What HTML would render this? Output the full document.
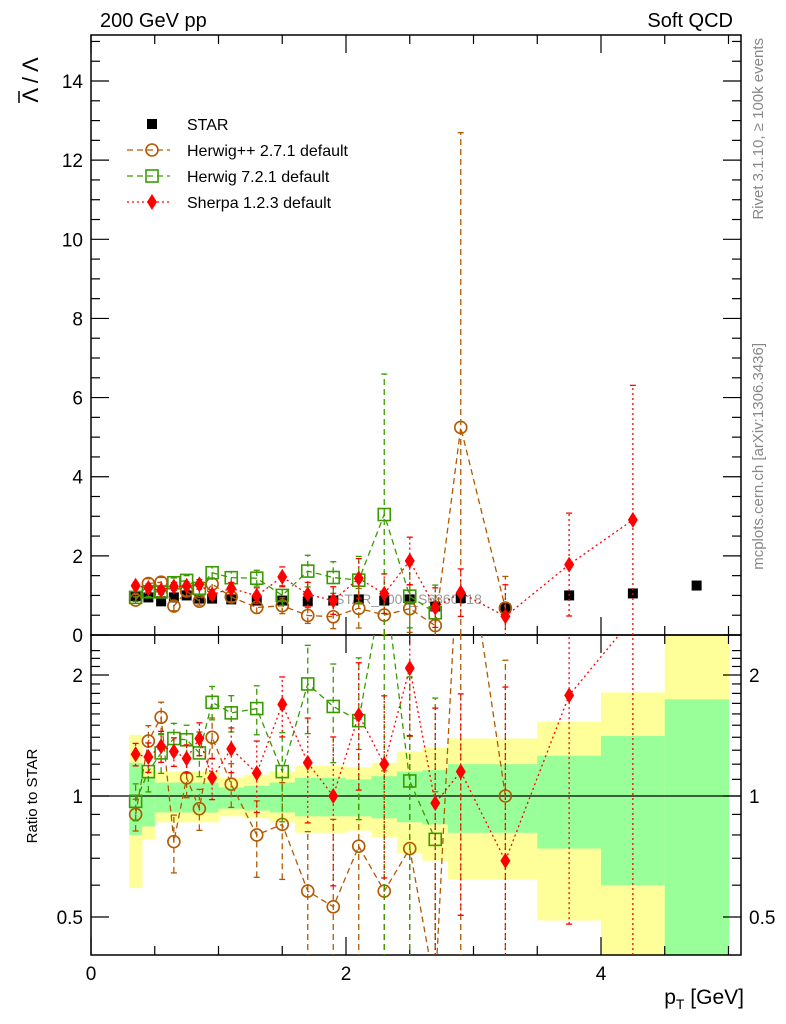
<!DOCTYPE html>
<html><head><meta charset="utf-8"><style>
html,body{margin:0;padding:0;background:#fff;overflow:hidden;width:786px;height:1024px}
svg{display:block;font-family:"Liberation Sans",sans-serif;overflow:hidden}
</style></head><body>
<svg id="c" width="786" height="1024" viewBox="0 0 786 1024"></svg>
<script>
const xs=[0.35,0.45,0.55,0.65,0.75,0.85,0.95,1.1,1.3,1.5,1.7,1.9,2.1,2.3,2.5,2.7,2.9,3.25,3.75,4.25,4.75];
const starVals=[0.98,0.95,0.85,0.95,1.0,0.92,0.92,0.9,0.87,0.87,0.85,0.87,0.9,0.87,0.9,0.72,0.93,0.68,1.0,1.05,1.25];
const hppRatio=[0.90,1.37,1.57,0.77,1.11,0.93,1.40,1.07,0.80,0.85,0.58,0.53,0.75,0.58,0.74,0.33,5.64,1.0];
const hppErr=[0.08,0.12,0.12,0.12,0.12,0.1,0.15,0.12,0.15,0.2,0.2,0.3,0.5,0.5,0.6,0.5,7.45,0.8];
const h7Ratio=[0.97,1.15,1.28,1.39,1.38,1.28,1.71,1.61,1.65,1.15,1.90,1.67,1.54,3.5,1.09,0.78];
const h7Err=[0.1,0.12,0.12,0.12,0.12,0.15,0.15,0.15,0.2,0.25,0.4,0.4,0.6,3.55,0.8,0.7];
const shRatio=[1.27,1.25,1.33,1.29,1.24,1.39,1.11,1.31,1.14,1.69,1.21,1.0,1.59,1.20,2.08,0.96,1.15,0.69,1.78,2.77];
const shErr=[0.08,0.1,0.1,0.1,0.1,0.12,0.12,0.15,0.2,0.25,0.3,0.35,0.5,0.5,0.6,0.5,0.6,0.8,1.3,3.4];
const bandEdges=[0.3,0.4,0.5,1.0,1.2,1.4,1.6,2.0,2.2,2.4,2.6,2.8,3.5,4.0,4.5,5.0];
const yelLo=[0.59,0.78,0.86,0.89,0.88,0.86,0.81,0.82,0.79,0.72,0.69,0.62,0.49,0.2,0.2];
const yelHi=[1.42,1.18,1.15,1.11,1.13,1.15,1.19,1.18,1.21,1.29,1.32,1.39,1.53,1.81,3.0];
const grnLo=[0.80,0.84,0.91,0.93,0.92,0.91,0.89,0.89,0.88,0.86,0.85,0.81,0.74,0.60,0.2];
const grnHi=[1.21,1.11,1.08,1.05,1.06,1.08,1.11,1.10,1.12,1.15,1.16,1.20,1.26,1.41,1.74];
const yTicks=[0,2,4,6,8,10,12,14];
const xTickLabels=[0,2,4];
const rTicks=[0.5,1,2];

const L=91,R=741,T=35,MB=635,RB=955;
const X=v=>L+v*127.5;
const Y=v=>MB-v*39.57;
const RY=r=>796-121*Math.log2(r);
const clampR=y=>Math.max(MB-40,Math.min(RB+15,y));
const NS="http://www.w3.org/2000/svg";
const svg=document.getElementById('c');
function el(tag,attrs,parent){const e=document.createElementNS(NS,tag);for(const k in attrs)e.setAttribute(k,attrs[k]);(parent||svg).appendChild(e);return e;}
function txt(s,attrs,parent){const e=el('text',attrs,parent);e.textContent=s;return e;}

const defs=el('defs',{});
const c1=el('clipPath',{id:'cu'},defs);el('rect',{x:L,y:T,width:R-L,height:MB-T},c1);
const c2=el('clipPath',{id:'cr'},defs);el('rect',{x:L,y:MB,width:R-L,height:RB-MB},c2);

const gb=el('g',{'clip-path':'url(#cr)'});


for(let i=0;i<yelLo.length;i++){
  const x0=X(bandEdges[i]),x1=X(bandEdges[i+1]);
  const yt0=clampR(RY(yelHi[i])),yb0=clampR(RY(yelLo[i]));
  const r1=el('rect',{x:x0,y:yt0,width:x1-x0+0.5,height:yb0-yt0,fill:'#ffff99'},gb);
  
  
  const yt1=clampR(RY(grnHi[i])),yb1=clampR(RY(grnLo[i]));
  const r2=el('rect',{x:x0,y:yt1,width:x1-x0+0.5,height:yb1-yt1,fill:'#99ff99'},gb);
  
  
}
el('line',{x1:L,x2:R,y1:RY(1),y2:RY(1),stroke:'#000','stroke-width':1.2});

function frame(y0,y1,name){const f=el('rect',{x:L,y:y0,width:R-L,height:y1-y0,fill:'none',stroke:'#000','stroke-width':1.5});}
frame(T,MB,'main-plot-frame');frame(MB,RB,'ratio-plot-frame');
const ax=el('g',{stroke:'#000','stroke-width':1.2});
for(let v=0;v<=15;v+=0.5){const y=Y(v);if(y<T)break;const len=(v%2===0)?18:9;
  el('line',{x1:L,x2:L+len,y1:y,y2:y},ax);el('line',{x1:R,x2:R-len,y1:y,y2:y},ax);}
for(let v=0;v<=5.01;v+=0.5){const x=X(v);if(x>R)break;const len=(Math.abs(v%2)<0.01)?18:9;
  [[T,1],[MB,-1],[MB,1],[RB,-1]].forEach(([y,d])=>el('line',{x1:x,x2:x,y1:y,y2:y+d*len},ax));}
for(let r=0.4;r<2.4;r+=0.1){const y=RY(r);if(y<MB||y>RB)continue;
  const major=rTicks.some(t=>Math.abs(t-r)<0.01);const len=major?18:9;
  el('line',{x1:L,x2:L+len,y1:y,y2:y},ax);el('line',{x1:R,x2:R-len,y1:y,y2:y},ax);}

const tl=el('g',{'font-size':19,fill:'#000'});
yTicks.forEach(v=>{const t=txt(String(v),{x:L-8,y:Y(v)+7,'text-anchor':'end'},tl);});
xTickLabels.forEach(v=>{const t=txt(String(v),{x:X(v),y:980,'text-anchor':'middle'},tl);});
rTicks.forEach(v=>{const t=txt(String(v),{x:L-8,y:RY(v)+7,'text-anchor':'end'},tl);
  const t2=txt(String(v),{x:R+8,y:RY(v)+7,'text-anchor':'start'},tl);});

const wm=txt('STAR_2006_S6860818',{x:335,y:604,'font-size':14,fill:'#999'});


const SER=[
 {name:'herwigpp',ratio:hppRatio,err:hppErr,color:'#b35900',dash:'6,4',mk:'circle'},
 {name:'herwig7',ratio:h7Ratio,err:h7Err,color:'#3a9b00',dash:'6,4',mk:'square'},
 {name:'sherpa',ratio:shRatio,err:shErr,color:'#ff0000',dash:'2,3',mk:'diamond'}
];
function marker(g,mk,x,y,color){
  if(mk==='circle')return el('circle',{cx:x,cy:y,r:6,fill:'none',stroke:color,'stroke-width':1.6},g);
  if(mk==='square')return el('rect',{x:x-6,y:y-6,width:12,height:12,fill:'none',stroke:color,'stroke-width':1.6},g);
  if(mk==='diamond')return el('polygon',{points:`${x},${y-8} ${x+5},${y} ${x},${y+8} ${x-5},${y}`,fill:color},g);
  if(mk==='sqfill')return el('rect',{x:x-5,y:y-5,width:10,height:10,fill:color},g);
}
function drawSeries(s,panel){
  const clip=panel==='u'?'url(#cu)':'url(#cr)';
  const g=el('g',{'clip-path':clip});
  
  
  const pts=[];
  s.ratio.forEach((r,i)=>{
    const v=r*starVals[i], e=s.err[i];
    const x=X(xs[i]);
    let y,ylo,yhi;
    if(panel==='u'){y=Y(v);yhi=Y(v+e);ylo=Math.min(Y(v-e),MB+10);}
    else{y=RY(r);yhi=clampR(RY((v+e)/starVals[i]));ylo=(v-e)>0?clampR(RY((v-e)/starVals[i])):RB+15;}
    pts.push([x,y]);
    el('line',{x1:x,x2:x,y1:ylo,y2:yhi,stroke:s.color,'stroke-width':1.3,'stroke-dasharray':s.dash},g);
    el('line',{x1:x-3,x2:x+3,y1:yhi,y2:yhi,stroke:s.color,'stroke-width':1.3},g);
    el('line',{x1:x-3,x2:x+3,y1:ylo,y2:ylo,stroke:s.color,'stroke-width':1.3},g);
  });
  el('polyline',{points:pts.map(p=>p.join(',')).join(' '),fill:'none',stroke:s.color,'stroke-width':1.3,'stroke-dasharray':s.dash},g);
  pts.forEach(p=>{const m=marker(g,s.mk,p[0],p[1],s.color);});
}
const gs=el('g',{'clip-path':'url(#cu)'});


starVals.forEach((v,i)=>{const m=marker(gs,'sqfill',X(xs[i]),Y(v),'#000');});
SER.forEach(s=>{drawSeries(s,'u');drawSeries(s,'r');});

const lg=el('g',{});


const leg=[['STAR','sqfill','#000',null],['Herwig++ 2.7.1 default','circle','#b35900','6,4'],['Herwig 7.2.1 default','square','#3a9b00','6,4'],['Sherpa 1.2.3 default','diamond','#ff0000','2,3']];
leg.forEach((l,i)=>{const y=124+i*26;
  const g=el('g',{},lg);
  
  
  if(l[3])el('line',{x1:127,x2:170,y1:y,y2:y,stroke:l[2],'stroke-width':1.3,'stroke-dasharray':l[3]},g);
  marker(g,l[1],152,y,l[2]);
  txt(l[0],{x:187,y:y+6,'font-size':16},g);
});

const t1=txt('200 GeV pp',{x:100,y:27,'font-size':20});
const t2=txt('Soft QCD',{x:733,y:27,'font-size':20,'text-anchor':'end'});
const yt=el('g',{transform:'translate(38,40) rotate(-90)'});

txt('Λ / Λ',{x:-40,y:0,'font-size':22,'text-anchor':'middle'},yt);
el('line',{x1:-63,x2:-51,y1:-19,y2:-19,stroke:'#000','stroke-width':1.5},yt);
const rt=txt('Ratio to STAR',{x:0,y:0,'font-size':15,'text-anchor':'middle',transform:'translate(37,796) rotate(-90)'});

const xt=el('text',{x:744,y:1004,'font-size':21,'text-anchor':'end'});

xt.innerHTML='p<tspan font-size="14" dy="5">T</tspan><tspan dy="-5"> [GeV]</tspan>';
const rv=txt('Rivet 3.1.10, ≥ 100k events',{x:0,y:0,'font-size':15,fill:'#888','text-anchor':'end',transform:'translate(763,38) rotate(-90)'});

const mc=txt('mcplots.cern.ch [arXiv:1306.3436]',{x:0,y:0,'font-size':15,fill:'#888','text-anchor':'end',transform:'translate(763,343) rotate(-90)'});

</script>
</body></html>
